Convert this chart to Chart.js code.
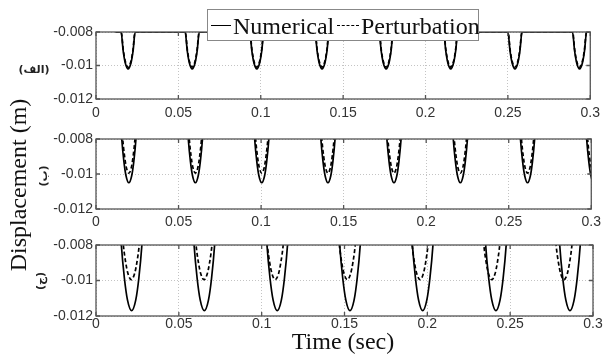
<!DOCTYPE html>
<html>
<head>
<meta charset="utf-8">
<script src="https://cdn.jsdelivr.net/npm/chart.js@4.4.0/dist/chart.umd.min.js"></script>
<style>
  body { margin: 0; background: #fff; }
  #wrap { position: relative; width: 606px; height: 358px; overflow: hidden; }
  #wrap canvas { position: absolute; left: 0; top: 0; }
  .lbl { position: absolute; white-space: nowrap; line-height: 1; transform: translate(-50%, -50%); }
  .serif { font-family: "Liberation Serif", "Times New Roman", serif; font-size: 24px; color: #111; line-height: 1; white-space: nowrap; }
  .tag { font-family: "DejaVu Sans", sans-serif; font-size: 11px; font-weight: bold; color: #222; }
  #legend { position: absolute; left: 207px; top: 9px; width: 272px; height: 32px; box-sizing: border-box;
            background: #fff; border: 1px solid #888; }
  #legend span { position: absolute; }
</style>
</head>
<body>
<div id="wrap">
  <canvas id="chartA" width="606" height="358"></canvas>
  <canvas id="chartB" width="606" height="358"></canvas>
  <canvas id="chartC" width="606" height="358"></canvas>

  <div class="lbl serif" style="left:18px;top:185px;transform:translate(-50%,-50%) rotate(-90deg)">Displacement (m)</div>
  <div class="lbl serif" style="left:343px;top:341px">Time (sec)</div>

  <div class="lbl tag" dir="rtl" style="left:34px;top:69px">(الف)</div>
  <div class="lbl tag" dir="rtl" style="left:43px;top:176px;transform:translate(-50%,-50%) rotate(-90deg)">(ب)</div>
  <div class="lbl tag" dir="rtl" style="left:40px;top:281px;transform:translate(-50%,-50%) rotate(-90deg)">(ج)</div>

  <div id="legend">
    <span style="left:3px;top:15px;width:20px;border-top:1.6px solid #000"></span>
    <span class="serif" style="left:25px;top:4px">Numerical</span>
    <span style="left:129px;top:15px;width:22px;border-top:1.6px dashed #000"></span>
    <span class="serif" style="left:153px;top:4px">Perturbation</span>
  </div>
</div>

<script>
const timeTicks = [0, 0.05, 0.1, 0.15, 0.2, 0.25, 0.3];
const dispTicks = [-0.012, -0.01, -0.008];
const TOP = -0.008;

// shape of one dip: offset in half-widths, height as share of the dip depth
const dipOffsets = [-1.8, -1, -0.7, -0.4, 0, 0.4, 0.7, 1, 1.8];
const dipLevels = [3.24, 1, 0.49, 0.16, 0, 0.16, 0.49, 1, 3.24];

// (الف)
const numA_t = [0.0195, 0.0584, 0.0976, 0.1372, 0.1761, 0.2153, 0.2543, 0.2935];
const numA_min = -0.0102, numA_hw = 0.0043;
const perA_t = [0.0195, 0.0584, 0.0976, 0.1372, 0.1761, 0.2153, 0.2543, 0.2935];
const perA_min = -0.0101, perA_hw = 0.0042;

// (ب)
const numB_t = [0.0199, 0.0602, 0.1004, 0.1405, 0.1805, 0.2207, 0.2614, 0.3015];
const numB_min = -0.0105, numB_hw = 0.0043;
const perB_t = [0.0199, 0.0602, 0.1004, 0.1405, 0.1805, 0.2207, 0.2614, 0.3015];
const perB_min = -0.00995, perB_hw = 0.0037;

// (ج)
const numC_t = [0.0215, 0.0654, 0.1094, 0.1533, 0.1972, 0.2414, 0.2861];
const numC_min = -0.0117, numC_hw = 0.0062;
const perC_t = [0.0213, 0.0652, 0.1082, 0.1517, 0.1956, 0.2389, 0.2825];
const perC_min = -0.00995, perC_hw = 0.0048;

function dips(centers, bottom, hw, ceiling) {
  const pts = [];
  centers.forEach(tc => {
    dipOffsets.forEach((f, i) => {
      let y = bottom + dipLevels[i] * (TOP - bottom);
      if (ceiling !== undefined) y = Math.min(y, ceiling);
      pts.push({ x: tc + f * hw, y });
    });
  });
  return pts;
}

const tickFont = { family: "'Liberation Sans', Arial, sans-serif", size: 14 };

const framePlugin = {
  id: 'frame',
  afterDatasetsDraw(chart) {
    const { ctx, chartArea: a, scales: { x, y } } = chart;
    ctx.save();
    ctx.strokeStyle = '#555';
    ctx.lineWidth = 1.3;
    ctx.strokeRect(a.left, a.top, a.right - a.left, a.bottom - a.top);
    ctx.beginPath();
    timeTicks.forEach(v => {
      const px = x.getPixelForValue(v);
      ctx.moveTo(px, a.bottom); ctx.lineTo(px, a.bottom - 4);
      ctx.moveTo(px, a.top); ctx.lineTo(px, a.top + 4);
    });
    dispTicks.forEach(v => {
      const py = y.getPixelForValue(v);
      ctx.moveTo(a.left, py); ctx.lineTo(a.left + 4, py);
      ctx.moveTo(a.right, py); ctx.lineTo(a.right - 4, py);
    });
    ctx.stroke();
    ctx.restore();
  }
};

function makePanel(id, top, bottom, labelPad, numData, perData) {
  new Chart(document.getElementById(id), {
    type: 'line',
    data: {
      datasets: [
        { label: 'Perturbation', data: perData, borderDash: [4, 2.5] },
        { label: 'Numerical', data: numData },
      ],
    },
    options: {
      responsive: false,
      animation: false,
      devicePixelRatio: 1,
      layout: { padding: { left: 0, right: 13, top: top, bottom: 0 } },
      plugins: { legend: { display: false }, tooltip: { enabled: false } },
      elements: {
        point: { radius: 0 },
        line: { borderColor: '#000', borderWidth: 1.7, cubicInterpolationMode: 'monotone' },
      },
      scales: {
        x: {
          type: 'linear', min: 0, max: 0.3,
          afterFit: s => { s.height = 358 - bottom; },
          afterBuildTicks: s => { s.ticks = timeTicks.map(v => ({ value: v })); },
          ticks: { callback: v => String(v), font: tickFont, color: '#333', padding: labelPad, maxRotation: 0, autoSkip: false },
          grid: { color: '#c4c4c4', lineWidth: 1, drawTicks: false },
          border: { display: false, dash: [1, 2] },
        },
        y: {
          type: 'linear', min: -0.012, max: -0.008,
          afterFit: s => { s.width = 96; },
          afterBuildTicks: s => { s.ticks = dispTicks.map(v => ({ value: v })); },
          ticks: { callback: v => String(v), font: tickFont, color: '#333', padding: 3, autoSkip: false },
          grid: { color: '#c4c4c4', lineWidth: 1, drawTicks: false },
          border: { display: false, dash: [1, 2] },
        },
      },
    },
    plugins: [framePlugin],
  });
}

makePanel('chartA', 32, 99, 6, dips(numA_t, numA_min, numA_hw, TOP), dips(perA_t, perA_min, perA_hw, TOP));
makePanel('chartB', 139, 209, 5, dips(numB_t, numB_min, numB_hw), dips(perB_t, perB_min, perB_hw));
makePanel('chartC', 245, 316, 0, dips(numC_t, numC_min, numC_hw), dips(perC_t, perC_min, perC_hw));
</script>
</body>
</html>
